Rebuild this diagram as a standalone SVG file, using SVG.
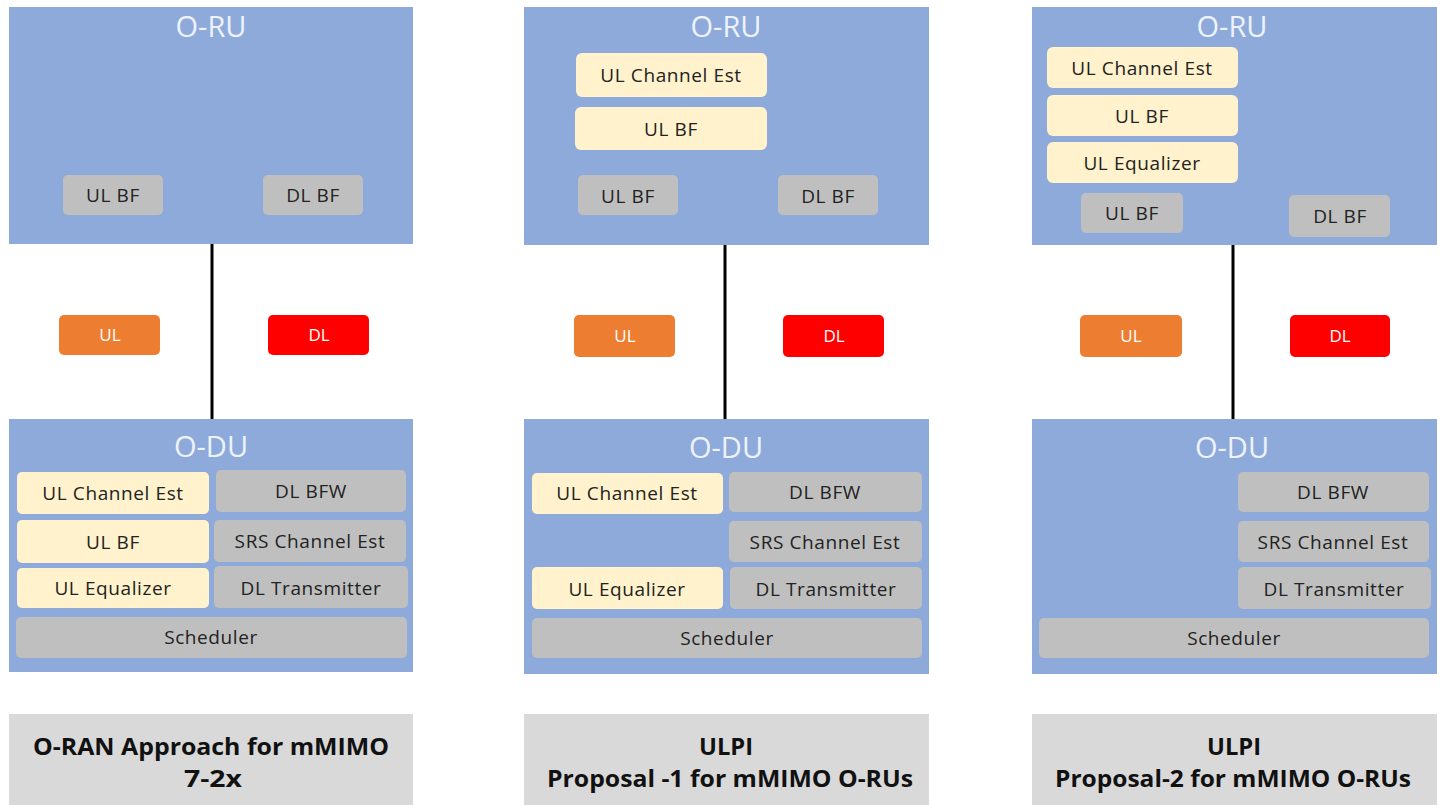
<svg xmlns="http://www.w3.org/2000/svg" width="1442" height="805" viewBox="0 0 1442 805">
<style>
.panel{fill:#8eaadb}
.gray{fill:#bfbfbf}
.cream{fill:#fff2cc}
.ul{fill:#ed7d31}
.dl{fill:#ff0000}
.lbl{fill:#d9d9d9}
.title{font-family:"Open Sans","Liberation Sans",sans-serif;font-size:29px;fill:#eef3fb;text-anchor:middle}
.t{font-family:"Open Sans","Liberation Sans",sans-serif;font-size:19px;letter-spacing:0.6px;fill:#222;text-anchor:middle}
.tw{font-family:"Open Sans","Liberation Sans",sans-serif;font-size:17px;fill:#fff;text-anchor:middle}
.cap{font-family:"Open Sans","Liberation Sans",sans-serif;font-size:24px;font-weight:bold;fill:#111;text-anchor:middle}
.conn{stroke:#000;stroke-width:3;fill:none}
</style>
<g id="connectors">
<line class="conn" x1="212" y1="244" x2="212" y2="419"/>
<line class="conn" x1="725" y1="245" x2="725" y2="419"/>
<line class="conn" x1="1233" y1="245" x2="1233" y2="419"/>
</g>
<!-- Panel 1 -->
<g id="oru1">
<rect class="panel" x="9" y="7" width="404" height="237"/>
<text class="title" x="211" y="37">O-RU</text>
</g>
<g id="oru1-ulbf"><rect class="gray" x="63" y="175" width="100" height="40" rx="5"/><text class="t" x="113" y="202">UL BF</text></g>
<g id="oru1-dlbf"><rect class="gray" x="263" y="175" width="100" height="40" rx="5"/><text class="t" x="313" y="202">DL BF</text></g>
<g id="ul1"><rect class="ul" x="59" y="315" width="101" height="40" rx="5"/><text class="tw" x="110" y="341">UL</text></g>
<g id="dl1"><rect class="dl" x="268" y="315" width="101" height="40" rx="5"/><text class="tw" x="319" y="341">DL</text></g>
<g id="odu1">
<rect class="panel" x="9" y="419" width="404" height="253"/>
<text class="title" x="211" y="457">O-DU</text>
</g>
<g id="odu1-ulce"><rect class="cream" x="17" y="472" width="192" height="42" rx="5"/><text class="t" x="113" y="500">UL Channel Est</text></g>
<g id="odu1-dlbfw"><rect class="gray" x="216" y="470" width="190" height="42" rx="5"/><text class="t" x="311" y="498">DL BFW</text></g>
<g id="odu1-ulbf"><rect class="cream" x="17" y="520" width="192" height="43" rx="5"/><text class="t" x="113" y="549">UL BF</text></g>
<g id="odu1-srs"><rect class="gray" x="214" y="520" width="192" height="42" rx="5"/><text class="t" x="310" y="548">SRS Channel Est</text></g>
<g id="odu1-uleq"><rect class="cream" x="17" y="568" width="192" height="40" rx="5"/><text class="t" x="113" y="595">UL Equalizer</text></g>
<g id="odu1-dltx"><rect class="gray" x="214" y="566" width="194" height="42" rx="5"/><text class="t" x="311" y="595">DL Transmitter</text></g>
<g id="odu1-sched"><rect class="gray" x="16" y="617" width="391" height="41" rx="5"/><text class="t" x="211" y="644">Scheduler</text></g>
<g id="label1"><rect class="lbl" x="9" y="714" width="404" height="91"/>
<text class="cap" x="211" y="755" textLength="356" lengthAdjust="spacingAndGlyphs">O-RAN Approach for mMIMO</text>
<text class="cap" x="213" y="787" textLength="58" lengthAdjust="spacingAndGlyphs">7-2x</text></g>
<!-- Panel 2 -->
<g id="oru2">
<rect class="panel" x="524" y="7" width="405" height="238"/>
<text class="title" x="726" y="37">O-RU</text>
</g>
<g id="oru2-ulce"><rect class="cream" x="576" y="53" width="191" height="44" rx="6"/><text class="t" x="671" y="82">UL Channel Est</text></g>
<g id="oru2-ulbfc"><rect class="cream" x="575" y="107" width="192" height="43" rx="6"/><text class="t" x="671" y="136">UL BF</text></g>
<g id="oru2-ulbf"><rect class="gray" x="578" y="175" width="100" height="40" rx="5"/><text class="t" x="628" y="203">UL BF</text></g>
<g id="oru2-dlbf"><rect class="gray" x="778" y="175" width="100" height="40" rx="5"/><text class="t" x="828" y="203">DL BF</text></g>
<g id="ul2"><rect class="ul" x="574" y="315" width="101" height="42" rx="5"/><text class="tw" x="625" y="342">UL</text></g>
<g id="dl2"><rect class="dl" x="783" y="315" width="101" height="42" rx="5"/><text class="tw" x="834" y="342">DL</text></g>
<g id="odu2">
<rect class="panel" x="524" y="419" width="405" height="255"/>
<text class="title" x="726" y="458">O-DU</text>
</g>
<g id="odu2-ulce"><rect class="cream" x="532" y="473" width="191" height="41" rx="5"/><text class="t" x="627" y="500">UL Channel Est</text></g>
<g id="odu2-dlbfw"><rect class="gray" x="729" y="472" width="193" height="40" rx="5"/><text class="t" x="825" y="499">DL BFW</text></g>
<g id="odu2-srs"><rect class="gray" x="729" y="521" width="193" height="41" rx="5"/><text class="t" x="825" y="549">SRS Channel Est</text></g>
<g id="odu2-uleq"><rect class="cream" x="532" y="567" width="191" height="42" rx="5"/><text class="t" x="627" y="596">UL Equalizer</text></g>
<g id="odu2-dltx"><rect class="gray" x="730" y="567" width="192" height="42" rx="5"/><text class="t" x="826" y="596">DL Transmitter</text></g>
<g id="odu2-sched"><rect class="gray" x="532" y="618" width="390" height="40" rx="5"/><text class="t" x="727" y="645">Scheduler</text></g>
<g id="label2"><rect class="lbl" x="524" y="714" width="405" height="91"/>
<text class="cap" x="726" y="755" textLength="54" lengthAdjust="spacingAndGlyphs">ULPI</text>
<text class="cap" x="730" y="787" textLength="366" lengthAdjust="spacingAndGlyphs">Proposal -1 for mMIMO O-RUs</text></g>
<!-- Panel 3 -->
<g id="oru3">
<rect class="panel" x="1032" y="7" width="405" height="238"/>
<text class="title" x="1232" y="37">O-RU</text>
</g>
<g id="oru3-ulce"><rect class="cream" x="1047" y="47" width="191" height="41" rx="6"/><text class="t" x="1142" y="75">UL Channel Est</text></g>
<g id="oru3-ulbfc"><rect class="cream" x="1047" y="95" width="191" height="41" rx="6"/><text class="t" x="1142" y="123">UL BF</text></g>
<g id="oru3-uleq"><rect class="cream" x="1047" y="142" width="191" height="41" rx="6"/><text class="t" x="1142" y="170">UL Equalizer</text></g>
<g id="oru3-ulbf"><rect class="gray" x="1081" y="193" width="102" height="40" rx="5"/><text class="t" x="1132" y="220">UL BF</text></g>
<g id="oru3-dlbf"><rect class="gray" x="1289" y="195" width="101" height="42" rx="5"/><text class="t" x="1340" y="223">DL BF</text></g>
<g id="ul3"><rect class="ul" x="1080" y="315" width="102" height="42" rx="5"/><text class="tw" x="1131" y="342">UL</text></g>
<g id="dl3"><rect class="dl" x="1290" y="315" width="100" height="42" rx="5"/><text class="tw" x="1340" y="342">DL</text></g>
<g id="odu3">
<rect class="panel" x="1032" y="419" width="405" height="255"/>
<text class="title" x="1232" y="458">O-DU</text>
</g>
<g id="odu3-dlbfw"><rect class="gray" x="1238" y="472" width="191" height="40" rx="5"/><text class="t" x="1333" y="499">DL BFW</text></g>
<g id="odu3-srs"><rect class="gray" x="1238" y="521" width="191" height="41" rx="5"/><text class="t" x="1333" y="549">SRS Channel Est</text></g>
<g id="odu3-dltx"><rect class="gray" x="1238" y="567" width="193" height="42" rx="5"/><text class="t" x="1334" y="596">DL Transmitter</text></g>
<g id="odu3-sched"><rect class="gray" x="1039" y="618" width="390" height="40" rx="5"/><text class="t" x="1234" y="645">Scheduler</text></g>
<g id="label3"><rect class="lbl" x="1032" y="714" width="405" height="91"/>
<text class="cap" x="1234" y="755" textLength="54" lengthAdjust="spacingAndGlyphs">ULPI</text>
<text class="cap" x="1233" y="787" textLength="356" lengthAdjust="spacingAndGlyphs">Proposal-2 for mMIMO O-RUs</text></g>
</svg>
